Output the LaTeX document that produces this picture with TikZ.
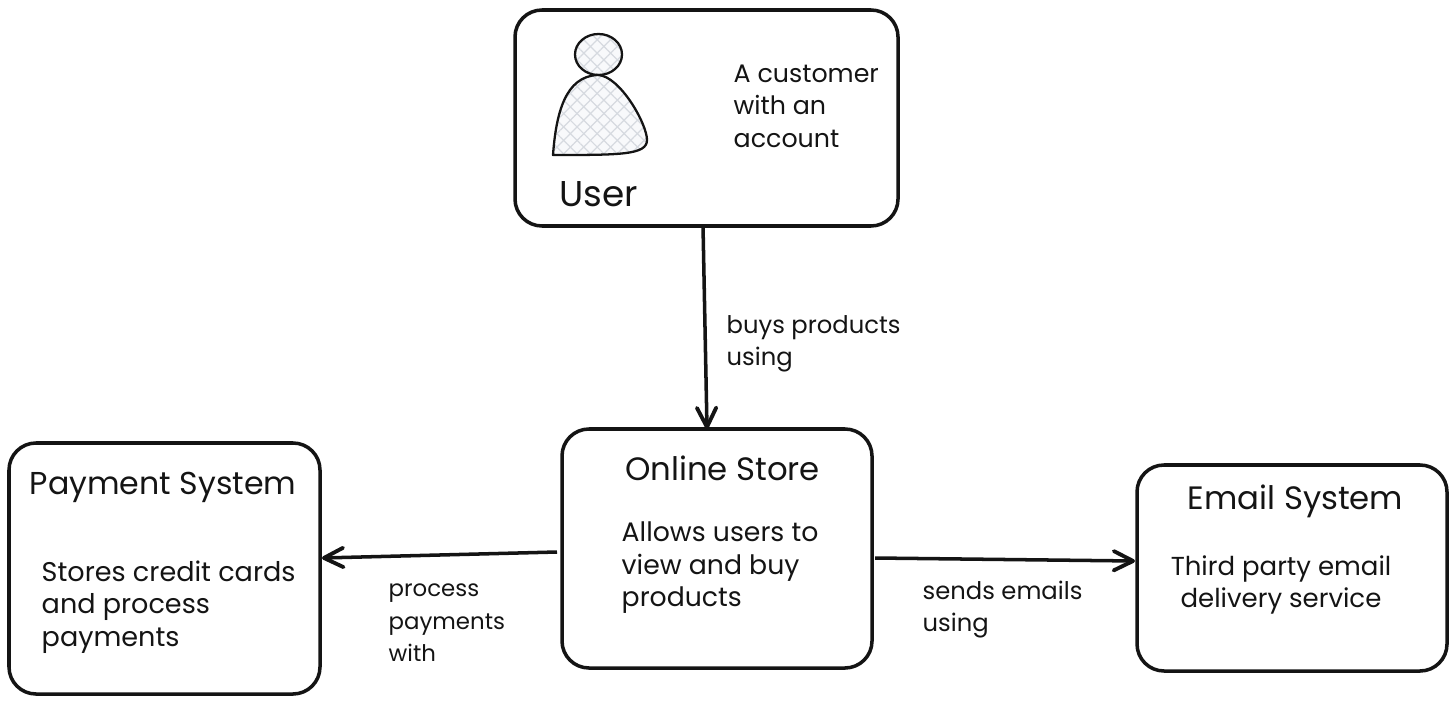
\documentclass[tikz,border=0pt]{standalone}
\usepackage{fontspec}
\setmainfont{Poppins}
\usetikzlibrary{arrows.meta}
\usetikzlibrary{patterns.meta}
\usetikzlibrary{shapes.geometric}
\definecolor{ink}{RGB}{20,20,20}
\definecolor{hatchbg}{RGB}{248,249,251}
\definecolor{hatchline}{RGB}{214,218,224}
\tikzset{
    sysbox/.style={draw=ink, line width=1pt, rounded corners=0.27cm, outer sep=0pt},
    flow/.style={draw=ink, line width=1pt, -{Straight Barb[length=5.5pt,width=5.5pt,line width=1.1pt,round]}},
    body/.style={anchor=west, align=left, inner sep=0pt, text=ink,
        font=\fontsize{6.9}{9.25}\selectfont},
    title/.style={inner sep=0pt, text=ink, font=\fontsize{9.2}{11}\selectfont},
    crossfill/.style={
        preaction={fill=hatchbg},
        preaction={pattern={Lines[angle=45,distance=2.7pt,line width=0.35pt]}, pattern color=hatchline},
        preaction={pattern={Lines[angle=-45,distance=2.7pt,line width=0.35pt]}, pattern color=hatchline}}
}
\begin{document}
\begin{tikzpicture}
    \useasboundingbox (0,0) rectangle (14.56,7.04);

    % User
    \node[sysbox, minimum width=3.83cm, minimum height=2.16cm] (user) at (7.065,5.86) {};
    \node[ellipse, draw=ink, line width=0.65pt, crossfill, minimum width=0.47cm, minimum height=0.41cm, inner sep=0pt] (head) at (5.985,6.495) {};
    \draw[draw=ink, line width=0.65pt, line join=round, crossfill] (5.53,5.49)
        .. controls (5.56,5.9) and (5.65,6.28) .. (5.98,6.29)
        .. controls (6.2,6.28) and (6.47,5.8) .. (6.47,5.64)
        .. controls (6.47,5.49) and (6.2,5.49) .. cycle;
    \node[title, font=\fontsize{10.2}{12}\selectfont] (usertitle) at (5.99,5.10) {User};
    \node[body, font=\fontsize{7.2}{9.25}\selectfont] (usertext) at (7.33,5.98) {A customer\\with an\\account};

    % Online Store
    \node[sysbox, minimum width=3.10cm, minimum height=2.39cm] (store) at (7.17,1.555) {};
    \node[title] (storetitle) at (7.225,2.36) {Online Store};
    \node[body, font=\fontsize{7.6}{9.25}\selectfont] (storetext) at (6.21,1.36) {Allows users to\\view and buy\\products};

    % Payment System
    \node[sysbox, minimum width=3.11cm, minimum height=2.51cm] (payment) at (1.645,1.355) {};
    \node[title, font=\fontsize{9}{11}\selectfont] (paymenttitle) at (1.63,2.17) {Payment System};
    \node[body, font=\fontsize{7.7}{9.25}\selectfont] (paymenttext) at (0.41,0.97) {Stores credit cards\\and process\\payments};

    % Email System
    \node[sysbox, minimum width=3.10cm, minimum height=2.06cm] (email) at (12.92,1.36) {};
    \node[title] (emailtitle) at (12.955,2.03) {Email System};
    \node[body, anchor=center, align=center, font=\fontsize{7.4}{9.25}\selectfont] (emailtext) at (12.81,1.19) {Third party email\\delivery service};

    % Connectors
    \draw[flow] ([xshift=-0.035cm]user.south) -- ([xshift=-0.1cm]store.north);
    \draw[flow] ([xshift=-0.05cm,yshift=-0.035cm]store.west) -- ([xshift=0.02cm,yshift=0.105cm]payment.east);
    \draw[flow] ([xshift=0.03cm,yshift=-0.095cm]store.east) -- ([xshift=-0.02cm,yshift=0.07cm]email.west);

    % Connector labels
    \node[body] (buyslabel) at (7.26,3.60) {buys products\\using};
    \node[body, font=\fontsize{6.5}{9.25}\selectfont] (processlabel) at (3.88,0.81) {process\\payments\\with};
    \node[body] (sendslabel) at (9.22,0.945) {sends emails\\using};
\end{tikzpicture}
\end{document}
